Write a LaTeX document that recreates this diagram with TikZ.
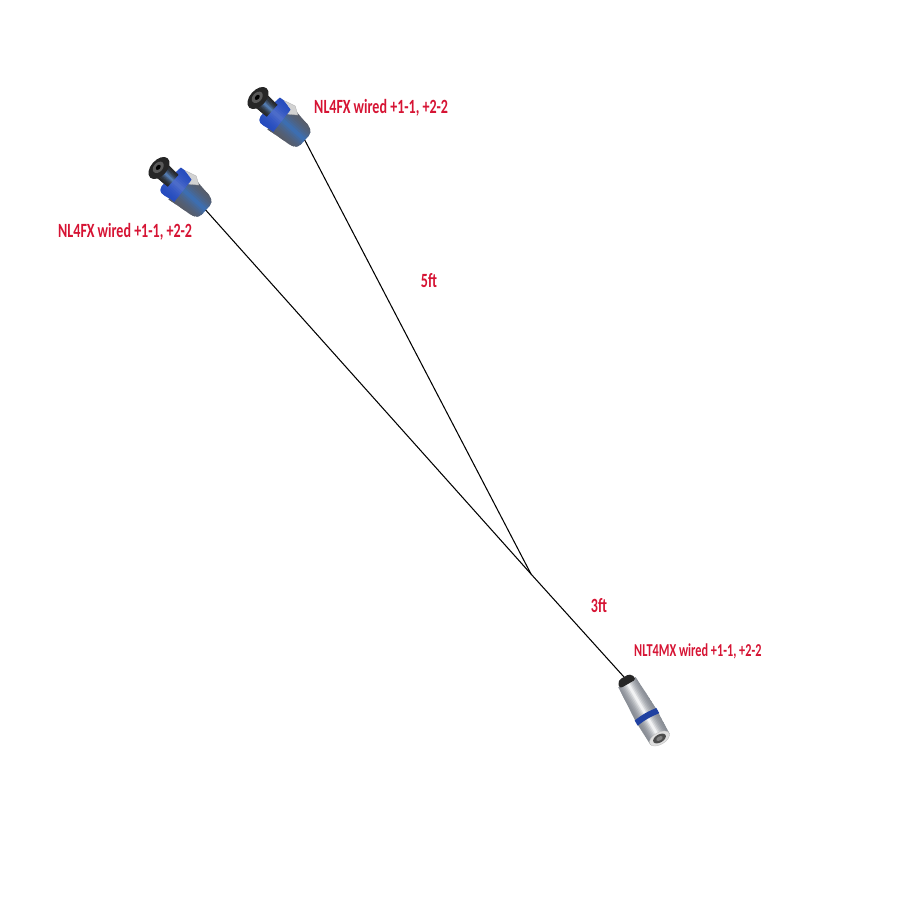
\documentclass[tikz,border=0pt]{standalone}
\usepackage{fontspec}
\setmainfont{Carlito}
\definecolor{labelred}{RGB}{214,20,52}
\definecolor{plugblue}{RGB}{38,76,190}
\definecolor{bodygrey}{RGB}{88,92,104}
\definecolor{bodyglow}{RGB}{58,112,185}
\definecolor{barrelgrey}{RGB}{135,140,148}
% bands across the plug: x from, x to, half width, edge colour, centre colour
\newcommand{\bands}[5]{
	\foreach \k in {0,...,17}{
		\pgfmathsetmacro\m{100*(1-abs(\k-8.5)/8.5)^2}
		\pgfmathsetmacro\ya{(\k/18*2-1)*#3}
		\pgfmathsetmacro\yb{((\k+1.4)/18*2-1)*#3}
		\fill[#5!\m!#4] (#1,\ya) rectangle (#2,\yb);
	}
}
\tikzset{
	lbl/.style={text=labelred,font=\bfseries\fontsize{11.5}{12}\selectfont,inner sep=0pt,xscale=0.695},
	cable/.style={black,line width=0.6pt},
	pics/speakon/.style={
		code={
			\begin{scope}[rotate=#1]
				%% grey body and its tail
				\begin{scope}
					\clip (26,-17) -- (50,-14) to[out=0,in=90] (63,-6) -- (63,6) to[out=-90,in=0] (50,14) -- (28,17) -- cycle;
					\bands{24}{64}{18}{bodygrey}{bodyglow}
				\end{scope}
				%% silver wedge
				\path[fill=gray!35,draw=gray!60,very thin] (19,-15) -- (33,-19) -- (41,-14) -- (33,-8) -- (24,-8) -- cycle;
				%% blue ring
				\begin{scope}
					\clip (16,-15) to[out=10,in=170] (32,-13) -- (34,15) to[out=180,in=0] (19,17) to[out=180,in=-90] (14,3) -- cycle;
					\bands{12}{36}{18}{plugblue}{plugblue!80!white}
				\end{scope}
				%% shaft
				\begin{scope}
					\clip (0,-9) -- (19,-8) -- (19,8) -- (0,9) -- cycle;
					\bands{0}{20}{9}{black!85}{bodyglow}
				\end{scope}
				%% head
				\path[fill=black!85] (0,0) ellipse (8 and 13);
				\path[fill=gray!70!black] (-1,0) ellipse (4.5 and 6.5);
				\path[fill=black] (-1,0) ellipse (2 and 3);
				\coordinate (-tail) at (63,0);
			\end{scope}
		}
	},
	pics/ethercon/.style={
		code={
			\begin{scope}[rotate=#1]
				%% silver barrel
				\begin{scope}
					\clip (6,-10) -- (44,-12) -- (72,-11) -- (72,11) -- (44,12) -- (6,10) -- cycle;
					\bands{4}{73}{13}{barrelgrey}{white}
				\end{scope}
				%% blue ring
				\path[fill=plugblue!85!black] (43,-12.5) to[bend right=8] (43,12.5) -- (49,12.5) to[bend left=8] (49,-12.5) -- cycle;
				%% face
				\path[fill=gray!25,draw=gray!50,very thin] (71,0) ellipse (6 and 11);
				\path[fill=black!70] (71,0) ellipse (4 and 7);
				\path[fill=gray] (71,0) ellipse (2 and 3.5);
				%% black cap
				\path[fill=black!85,rounded corners=2pt] (0,-7) -- (8,-10) -- (8,10) -- (0,7) -- cycle;
				\coordinate (-tail) at (0,0);
			\end{scope}
		}
	}
}

\begin{document}
\begin{tikzpicture}[x=0.02cm,y=-0.02cm]
	\useasboundingbox (0,0) rectangle (900,900);
	\coordinate (split) at (531,574);

	\pic (plugA) at (258,98) {speakon=-42};
	\pic (plugB) at (159,168) {speakon=-42};
	\pic (plugC) at (624,677) {ethercon=-60};

	\draw[cable] (plugA-tail) -- (split);
	\draw[cable] (plugB-tail) -- (split);
	\draw[cable] (plugC-tail) -- (split);

	\node[lbl,anchor=west] (labelA) at (314,107.5) {NL4FX wired +1-1, +2-2};
	\node[lbl,anchor=west] (labelB) at (58,231.5) {NL4FX wired +1-1, +2-2};
	\node[lbl,anchor=west,scale=0.9,xscale=0.97] (labelC) at (634,651) {NLT4MX wired +1-1, +2-2};
	\node[lbl] (longrun) at (429,281) {5ft};
	\node[lbl] (shortrun) at (599,606) {3ft};
\end{tikzpicture}
\end{document}
